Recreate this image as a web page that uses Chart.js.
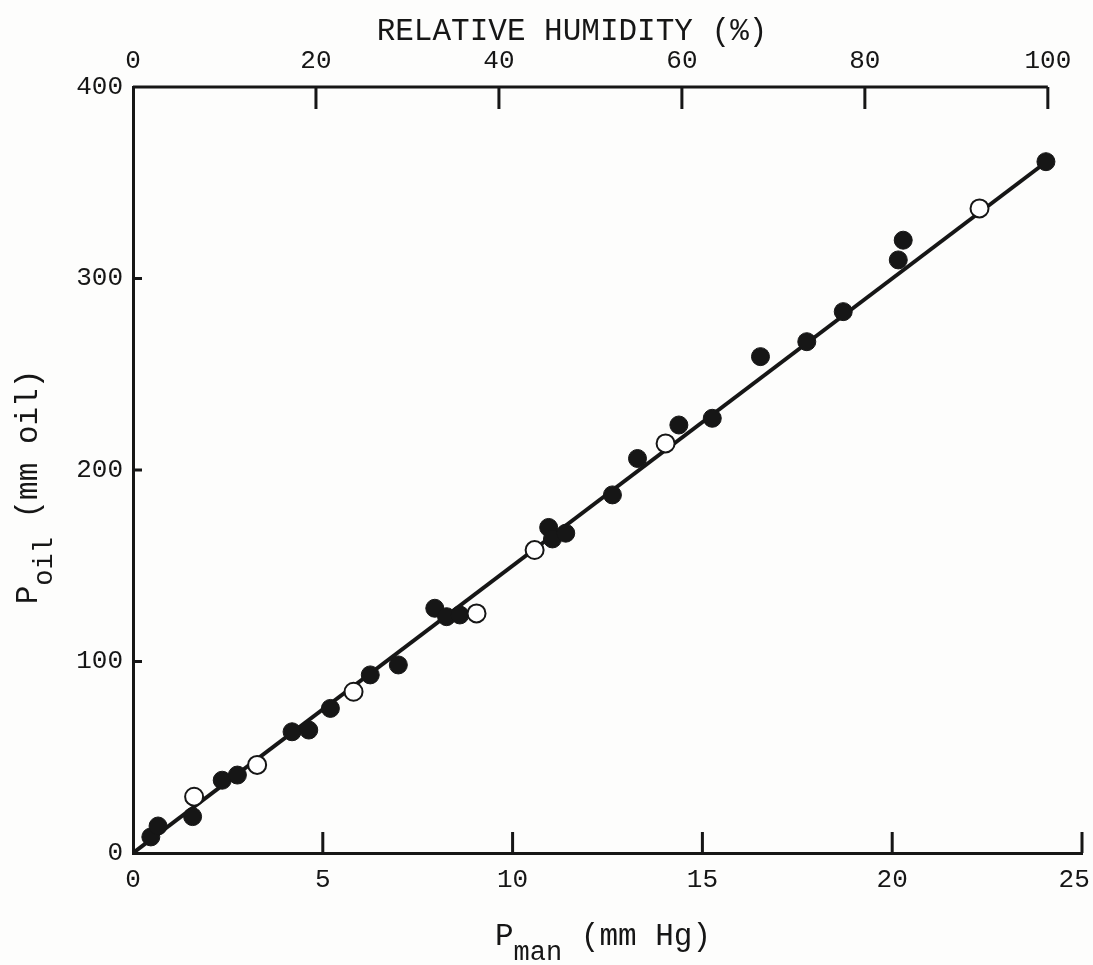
<!DOCTYPE html>
<html>
<head>
<meta charset="utf-8">
<script src="https://cdn.jsdelivr.net/npm/chart.js@4"></script>
<style>
  html, body { margin: 0; padding: 0; background: #fdfdfc; }
  #wrap { width: 1093px; height: 965px; }
</style>
</head>
<body>
<div id="wrap"><canvas id="oilChart" width="1093" height="965"></canvas></div>
<script>
// manometer pressure (mm Hg) vs oil column pressure (mm oil)
const filledPman = [0.47, 0.66, 1.57, 2.35, 2.75, 4.19, 4.63, 5.2, 6.25, 6.99, 7.95, 8.26, 8.61,
  10.95, 11.05, 11.4, 12.63, 13.29, 14.38, 15.26, 16.53, 17.75, 18.71, 20.16, 20.29, 24.05];
const filledPoil = [8.4, 14.1, 19, 38, 40.7, 63.3, 64.2, 75.5, 93, 98.2, 127.8, 123.4, 124.3,
  170, 164, 167, 187, 206, 223.5, 227, 259.2, 267, 282.7, 309.7, 320, 361];
const openPman = [1.61, 3.27, 5.81, 9.05, 10.58, 14.03, 22.3];
const openPoil = [29.4, 46, 84.2, 125.1, 158.2, 213.9, 336.6];
const fitPman = [0, 24.1];
const fitPoil = [0, 361.5];

const pmanTicks = [0, 5, 10, 15, 20, 25];
const poilTicks = [0, 100, 200, 300, 400];
const humidityTicks = [0, 20, 40, 60, 80, 100];
const satPressure = 24.1; // mm Hg at 100 % RH

const ink = '#161616';
const font = 'Liberation Mono, Courier New, monospace';

const toPoints = (xs, ys) => xs.map((x, i) => ({ x: x, y: ys[i] }));
const setTicks = vals => scale => { scale.ticks = vals.map(v => ({ value: v })); };
// keep the plot width fixed, labels may hang over the edges
const fixHeight = h => s => { s.height = h; s.paddingLeft = 0; s.paddingRight = 0; };

// tick marks pointing into the plot, the short humidity axis line, and titles
const axisDecor = {
  id: 'axisDecor',
  afterDraw(chart) {
    const { ctx, chartArea: a, scales } = chart;
    ctx.save();
    ctx.strokeStyle = ink;
    ctx.lineWidth = 3;
    ctx.beginPath();
    pmanTicks.slice(1).forEach(v => {
      const px = scales.x.getPixelForValue(v);
      ctx.moveTo(px, a.bottom); ctx.lineTo(px, a.bottom - 21);
    });
    poilTicks.slice(1, -1).forEach(v => {
      const py = scales.y.getPixelForValue(v);
      ctx.moveTo(a.left, py); ctx.lineTo(a.left + 9, py);
    });
    humidityTicks.slice(1).forEach(v => {
      const px = scales.x2.getPixelForValue(v);
      ctx.moveTo(px, a.top); ctx.lineTo(px, a.top + 22);
    });
    ctx.moveTo(a.left, a.top);
    ctx.lineTo(scales.x2.getPixelForValue(100), a.top);
    ctx.stroke();

    ctx.fillStyle = ink;
    ctx.textBaseline = 'alphabetic';
    ctx.textAlign = 'center';
    ctx.font = '31px ' + font;
    ctx.fillText('RELATIVE HUMIDITY (%)', 572, 40);
    ctx.textAlign = 'left';

    const drawSub = (main, sub, rest, cx, cy) => {
      ctx.font = '31px ' + font;
      const w1 = ctx.measureText(main).width;
      const w3 = ctx.measureText(rest).width;
      ctx.font = '27px ' + font;
      const w2 = ctx.measureText(sub).width;
      let x = cx - (w1 + w2 + w3) / 2;
      ctx.font = '31px ' + font;
      ctx.fillText(main, x, cy);
      x += w1;
      ctx.font = '27px ' + font;
      ctx.fillText(sub, x, cy + 15);
      x += w2;
      ctx.font = '31px ' + font;
      ctx.fillText(rest, x, cy);
    };
    drawSub('P', 'man', ' (mm Hg)', 603, 945);
    ctx.translate(37, 487);
    ctx.rotate(-Math.PI / 2);
    drawSub('P', 'oil', ' (mm oil)', 0, 0);
    ctx.restore();
  }
};

new Chart(document.getElementById('oilChart'), {
  type: 'scatter',
  data: {
    datasets: [{
      type: 'line',
      data: toPoints(fitPman, fitPoil),
      borderColor: ink,
      borderWidth: 4,
      pointRadius: 0,
      order: 3
    }, {
      data: toPoints(filledPman, filledPoil),
      backgroundColor: ink,
      borderColor: ink,
      borderWidth: 1,
      pointRadius: 9,
      order: 2
    }, {
      data: toPoints(openPman, openPoil),
      backgroundColor: '#ffffff',
      borderColor: ink,
      borderWidth: 2,
      pointRadius: 9,
      order: 1
    }]
  },
  options: {
    responsive: false,
    animation: false,
    layout: { padding: { left: 0, right: 8, top: 0, bottom: 0 } },
    plugins: { legend: { display: false }, tooltip: { enabled: false } },
    scales: {
      x: {
        type: 'linear', position: 'bottom', min: 0, max: 25,
        afterBuildTicks: setTicks(pmanTicks),
        afterFit: fixHeight(112),
        grid: { display: false, drawTicks: false },
        border: { display: true, color: ink, width: 3 },
        ticks: {
          color: ink, padding: 12, font: { family: font, size: 26 },
          // last label sits a little left of its tick so it stays on the page
          callback: v => v === 25 ? v + ' ' : String(v)
        }
      },
      x2: {
        type: 'linear', position: 'top', min: 0, max: 25 / satPressure * 100,
        afterBuildTicks: setTicks(humidityTicks),
        afterFit: fixHeight(87),
        grid: { display: false, drawTicks: false },
        border: { display: false },
        ticks: { color: ink, padding: 10, font: { family: font, size: 26 } }
      },
      y: {
        type: 'linear', min: 0, max: 400,
        afterBuildTicks: setTicks(poilTicks),
        afterFit: s => { s.width = 133; },
        grid: { display: false, drawTicks: false },
        border: { display: true, color: ink, width: 3 },
        ticks: { color: ink, padding: 10, font: { family: font, size: 26 } }
      }
    }
  },
  plugins: [axisDecor]
});
</script>
</body>
</html>
